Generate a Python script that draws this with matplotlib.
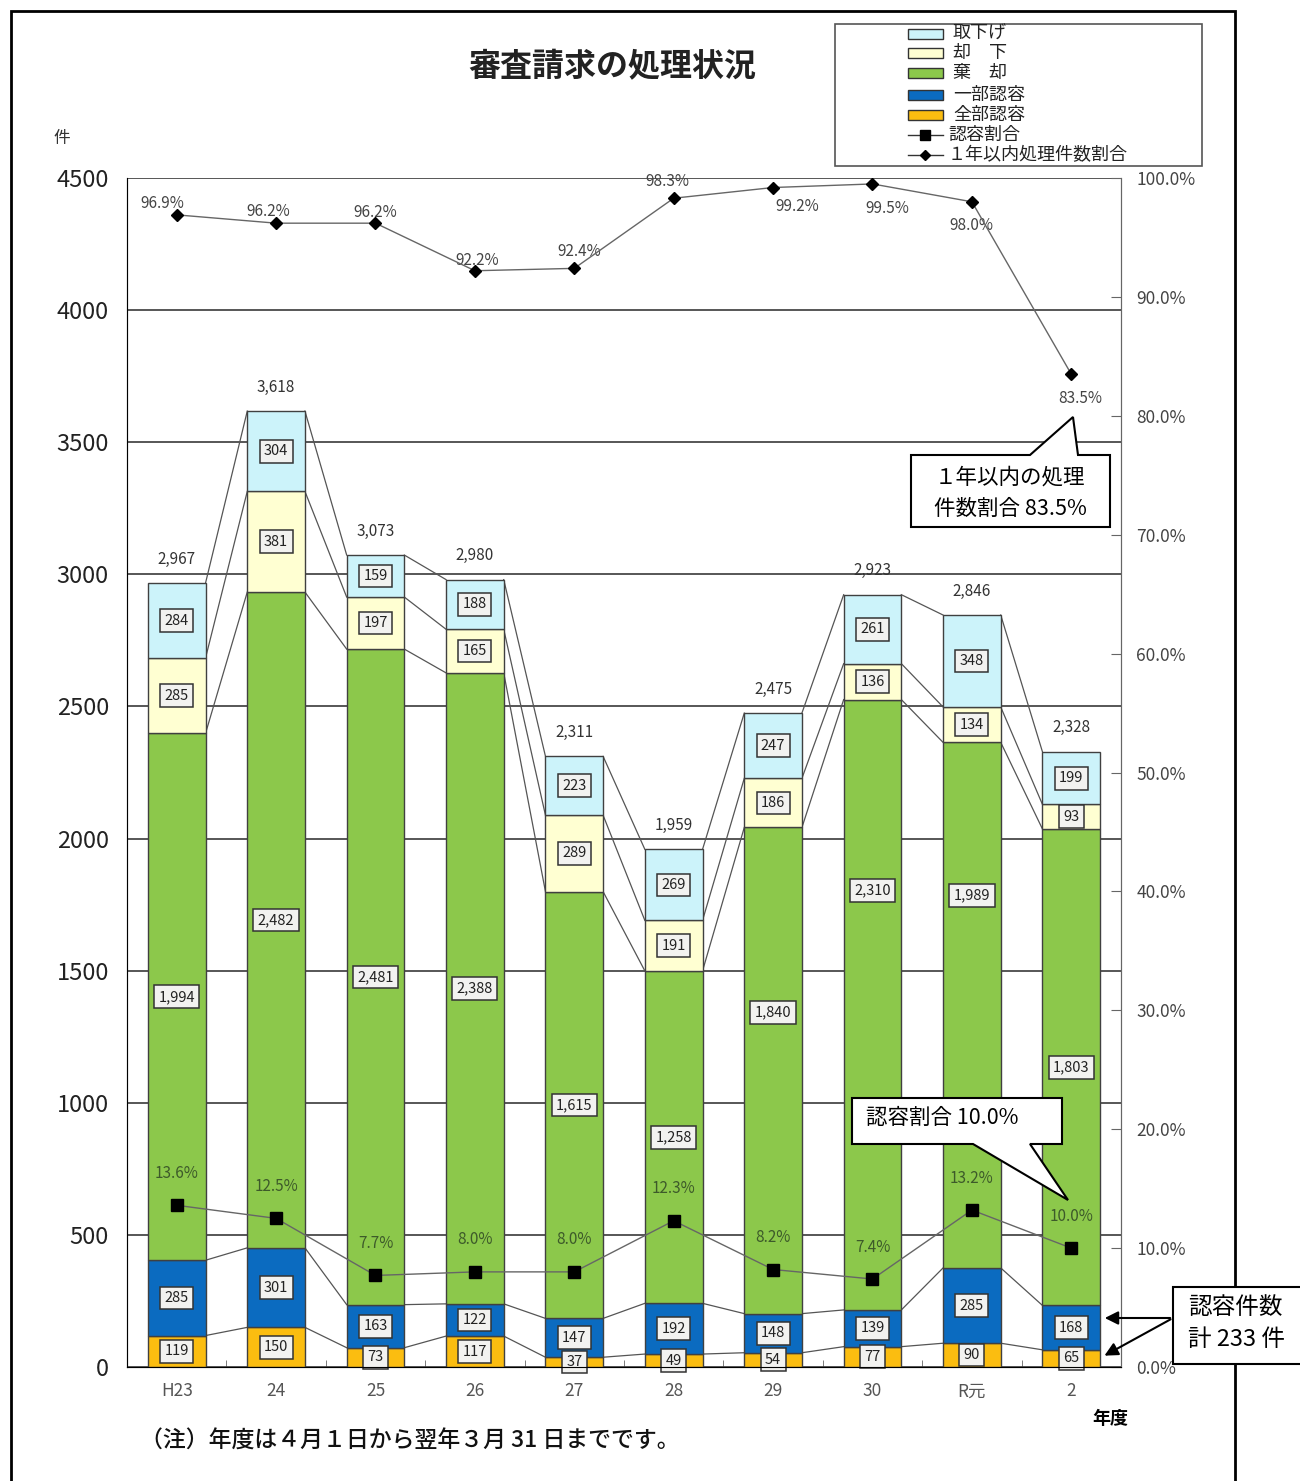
import matplotlib
matplotlib.use("Agg")
import matplotlib.pyplot as plt
import numpy as np
from matplotlib.patches import Rectangle, Polygon, FancyArrowPatch
from matplotlib.lines import Line2D
from matplotlib.ticker import FuncFormatter, MultipleLocator

plt.rcParams["font.family"] = ["Noto Sans CJK JP", "DejaVu Sans"]

W, H = 1300, 1481

# データ
年度 = ["H23", "24", "25", "26", "27", "28", "29", "30", "R元", "2"]
全部認容 = [119, 150, 73, 117, 37, 49, 54, 77, 90, 65]
一部認容 = [285, 301, 163, 122, 147, 192, 148, 139, 285, 168]
棄却 = [1994, 2482, 2481, 2388, 1615, 1258, 1840, 2310, 1989, 1803]
却下 = [285, 381, 197, 165, 289, 191, 186, 136, 134, 93]
取下げ = [284, 304, 159, 188, 223, 269, 247, 261, 348, 199]
認容割合 = [13.6, 12.5, 7.7, 8.0, 8.0, 12.3, 8.2, 7.4, 13.2, 10.0]
一年以内割合 = [96.9, 96.2, 96.2, 92.2, 92.4, 98.3, 99.2, 99.5, 98.0, 83.5]

系列 = [
    ("全部認容", 全部認容, "#FBBD10"),
    ("一部認容", 一部認容, "#0B6BC0"),
    ("棄　却", 棄却, "#8CC84B"),
    ("却　下", 却下, "#FFFFD2"),
    ("取下げ", 取下げ, "#CCF3FA"),
]

# 1年以内ラベルの位置(ピクセル)
一年ラベル位置 = [(-14, 11), (-8, 12), (0, 11), (2, 10), (5, 17), (-6, 17),
                (24, -19), (15, -25), (-1, -24), (9, -24)]
# 吹き出しを避けて上にずらした棄却ラベル(ピクセル)
ラベルずらし = {("棄　却", 6): 58, ("棄　却", 7): 114, ("棄　却", 8): 110}


def px(x, y):
    return (x / W, 1 - y / H)


fig = plt.figure(figsize=(W / 100, H / 100), dpi=100)
ax = fig.add_axes([127 / W, 114 / H, (1121 - 127) / W, (1367 - 178) / H])

x = np.arange(len(年度))
幅 = 0.58
下端 = np.zeros(len(年度))
累積 = []
for 名前, 値, 色 in 系列:
    値 = np.array(値)
    ax.bar(x, 値, 幅, bottom=下端, color=色, edgecolor="#404040", linewidth=1, zorder=3)
    for i in range(len(x)):
        ax.annotate(f"{値[i]:,}", (x[i], 下端[i] + 値[i] / 2),
                    xytext=(0, ラベルずらし.get((名前, i), 0)), textcoords="offset pixels",
                    ha="center", va="center", fontsize=10.5, color="#222", zorder=6,
                    bbox=dict(boxstyle="square,pad=0.3", fc="#F2F2F0", ec="#333", lw=1.1))
    下端 = 下端 + 値
    累積.append(下端.copy())

# 区分線
for 上端 in 累積:
    for i in range(len(x) - 1):
        ax.plot([x[i] + 幅 / 2, x[i + 1] - 幅 / 2], [上端[i], 上端[i + 1]],
                color="#555", lw=0.9, zorder=2)

# 合計
for i in range(len(x)):
    ax.annotate(f"{int(下端[i]):,}", (x[i], 下端[i]), xytext=(0, 24),
                textcoords="offset pixels", ha="center", va="center",
                fontsize=11, color="#333")

ax.set_xlim(-0.5, len(x) - 0.5)
ax.set_ylim(0, 4500)
ax.yaxis.set_major_locator(MultipleLocator(500))
ax.grid(axis="y", color="#3a3a3a", lw=1.2, zorder=0)
ax.set_axisbelow(True)
ax.set_xticks(x)
ax.set_xticklabels(年度, fontsize=12.5, color="#555")
ax.set_xticks(x[:-1] + 0.5, minor=True)
ax.tick_params(axis="x", which="major", length=0, pad=11)
ax.tick_params(axis="x", which="minor", direction="in", length=5, color="#666")
ax.tick_params(axis="y", length=0, pad=13, labelsize=17, labelcolor="#222")
ax.spines["top"].set_visible(False)
for s in ["left", "bottom", "right"]:
    ax.spines[s].set_color("#666")

ax2 = ax.twinx()
ax2.set_ylim(0, 100)
ax2.yaxis.set_major_locator(MultipleLocator(10))
ax2.yaxis.set_major_formatter(FuncFormatter(lambda v, p: f"{v:.1f}%"))
ax2.tick_params(axis="y", direction="in", length=7, color="#666", pad=11,
                labelsize=12.5, labelcolor="#444")
ax2.spines["top"].set_visible(False)
ax2.spines["right"].set_color("#666")

ax2.plot(x, 認容割合, color="#666", lw=1, marker="s", ms=8, mfc="black", mec="black", zorder=5)
ax2.plot(x, 一年以内割合, color="#666", lw=1, marker="D", ms=6, mfc="black", mec="black", zorder=5)
for i in range(len(x)):
    ax2.annotate(f"{認容割合[i]:.1f}%", (x[i], 認容割合[i]), xytext=(0, 32),
                 textcoords="offset pixels", ha="center", va="center",
                 fontsize=11, color="#3d5a2a")
    dx, dy = 一年ラベル位置[i]
    ax2.annotate(f"{一年以内割合[i]:.1f}%", (x[i], 一年以内割合[i]), xytext=(dx, dy),
                 textcoords="offset pixels", ha="center", va="center",
                 fontsize=11, color="#444")

# タイトルなど
fig.text(*px(612, 67), "審査請求の処理状況", ha="center", va="center",
         fontsize=23, fontweight="bold", color="#222")
fig.text(*px(62, 138), "件", ha="center", va="center", fontsize=12, color="#333")
fig.text(*px(1110, 1418), "年度", ha="center", va="center", fontsize=13, fontweight="bold")
fig.text(*px(140, 1441), "（注）年度は４月１日から翌年３月 31 日までです。", ha="left",
         va="center", fontsize=16.5, fontweight="medium", color="#111")

# 凡例
fig.patches.append(Rectangle(px(835, 166), 367 / W, 142 / H, transform=fig.transFigure,
                             fc="white", ec="#555", lw=1.2))
行y = [34, 53, 73, 95, 115, 135, 155]
for k, (名前, _, 色) in enumerate(reversed(系列)):
    fig.patches.append(Rectangle(px(908, 行y[k] + 5), 35 / W, 10 / H,
                                 transform=fig.transFigure, fc=色, ec="#333", lw=1))
    fig.text(*px(953, 行y[k]), 名前, ha="left", va="center", fontsize=13, color="#222")
for k, (名前, mk, ms) in enumerate([("認容割合", "s", 7), ("１年以内処理件数割合", "D", 5)]):
    yy = 行y[5 + k]
    fig.lines.append(Line2D([908 / W, 943 / W], [1 - yy / H] * 2, transform=fig.transFigure,
                            color="#333", lw=1))
    fig.lines.append(Line2D([925 / W], [1 - yy / H], transform=fig.transFigure,
                            marker=mk, ms=ms, color="black", lw=0))
    fig.text(*px(948, yy), 名前, ha="left", va="center", fontsize=13, color="#222")


# 吹き出し
def 吹き出し(点):
    fig.patches.append(Polygon([px(*p) for p in 点], closed=True, transform=fig.transFigure,
                               fc="white", ec="black", lw=1.5, zorder=10))


吹き出し([(911, 455), (1030, 455), (1073, 417), (1078, 455), (1110, 455),
        (1110, 527), (911, 527)])
fig.text(*px(1010, 478), "１年以内の処理", ha="center", va="center", fontsize=15.5, zorder=11)
fig.text(*px(1010, 509), "件数割合 83.5%", ha="center", va="center", fontsize=15.5, zorder=11)

吹き出し([(852, 1098), (1062, 1098), (1062, 1144), (1030, 1144), (1068, 1200),
        (973, 1144), (852, 1144)])
fig.text(*px(866, 1118), "認容割合 10.0%", ha="left", va="center", fontsize=15.5, zorder=11)

# 外枠
fig.patches.append(Rectangle(px(11, 1500), 1224 / W, 1489 / H, transform=fig.transFigure,
                             fc="none", ec="black", lw=2, zorder=1))

fig.patches.append(Rectangle(px(1173, 1364), 140 / W, 77 / H, transform=fig.transFigure,
                             fc="white", ec="black", lw=1.5, zorder=10))
fig.text(*px(1188, 1307), "認容件数", ha="left", va="center", fontsize=17, zorder=11)
fig.text(*px(1188, 1339), "計 233 件", ha="left", va="center", fontsize=17, zorder=11)
for 先 in [(1102, 1318), (1102, 1357)]:
    fig.add_artist(FancyArrowPatch(
        px(1173, 1318), px(*先), transform=fig.transFigure, arrowstyle="-|>",
        mutation_scale=20, color="black", lw=1.5, zorder=12))

fig.savefig("out.png", dpi=100)
